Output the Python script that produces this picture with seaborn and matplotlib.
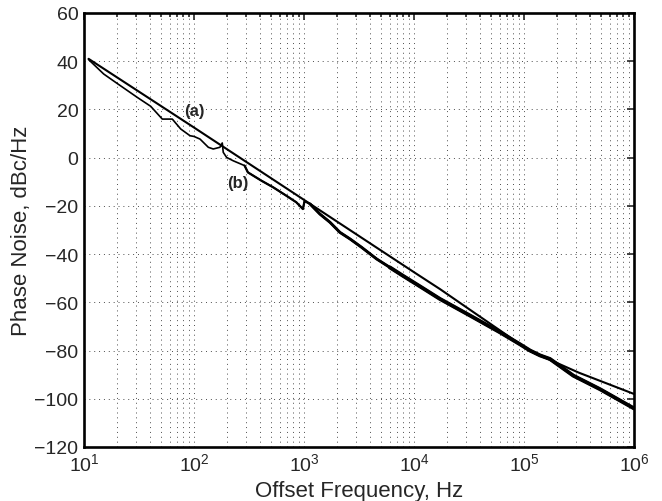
import matplotlib
matplotlib.use("Agg")
import matplotlib.pyplot as plt
import matplotlib.ticker as mticker
import numpy as np
import pandas as pd
import seaborn as sns

# ---- data ----
freq_a = [11, 100, 1000, 10000, 17220, 31620, 100000, 113500, 316200, 1000000]
pn_a = [41.0, 12.5, -17.5, -47.5, -54.5, -62.8, -78.5, -80.2, -89.2, -98.0]

freq_b = [11, 15.1, 20, 30.5, 40.4, 51.5, 63.5, 75.7, 92, 100, 113.5, 135, 149.6,
          172, 180.7, 184.5, 198, 227.5, 288.4, 309, 412, 525, 692, 851, 977,
          1012, 1135, 1396, 1722, 2123, 2618, 3342, 4571, 6026, 7943, 11350,
          17220, 32360, 60260, 91200, 113500, 139600, 172200, 280500, 489800,
          1000000]
pn_b = [40.7, 34.7, 30.8, 25.0, 21.3, 16.0, 16.0, 11.9, 9.1, 8.8, 7.7, 4.3, 3.6,
        4.3, 6.1, 2.2, 0.1, -1.3, -3.3, -6.1, -9.6, -12.3, -15.8, -18.5, -21.3,
        -18.0, -19.2, -23.4, -26.8, -31.0, -33.7, -37.2, -42.0, -45.5, -49.0,
        -53.4, -58.6, -65.5, -72.4, -77.3, -80.0, -82.0, -83.5, -90.4, -96.0,
        -104.0]

x_ticks = [10, 100, 1000, 10000, 100000, 1000000]
y_ticks = [-120, -100, -80, -60, -40, -20, 0, 20, 40, 60]

df_a = pd.DataFrame({"f": freq_a, "pn": pn_a})
df_b = pd.DataFrame({"f": freq_b, "pn": pn_b})

sns.set_style("white")
plt.rcParams["font.family"] = ["Liberation Sans", "DejaVu Sans"]
plt.rcParams["mathtext.fontset"] = "custom"
plt.rcParams["mathtext.rm"] = "Liberation Sans"
plt.rcParams["mathtext.it"] = "Liberation Sans:italic"

fig = plt.figure(figsize=(6.62, 5.02), dpi=100)
ax = fig.add_axes([84 / 662, 1 - 448 / 502, 550 / 662, 434 / 502])

sns.lineplot(data=df_a, x="f", y="pn", ax=ax, color="black", lw=1.5,
             estimator=None, zorder=3)
# measured curve (b): its trace gets visibly thicker (noisier) toward high offsets
for fmin, lw in [(0, 1.2), (250, 1.6), (1100, 2.1), (5000, 2.8)]:
    sns.lineplot(data=df_b[df_b["f"] >= fmin], x="f", y="pn", ax=ax,
                 color="black", lw=lw, estimator=None, zorder=3)

ax.set_xscale("log")
ax.set_xlim(10, 1e6)
ax.set_ylim(-120, 60)
ax.set_xticks(x_ticks)
ax.set_yticks(y_ticks)
ax.xaxis.set_minor_locator(mticker.LogLocator(base=10, subs=np.arange(2, 10), numticks=20))
ax.xaxis.set_minor_formatter(mticker.NullFormatter())
ax.set_yticklabels([str(v).replace("-", "\u2212") for v in y_ticks])

ax.grid(True, which="both", axis="x", color="0.3", lw=0.7, ls=(0, (1, 4)))
ax.grid(True, which="major", axis="y", color="0.3", lw=0.7, ls=(0, (1, 4)))

ax.tick_params(which="both", direction="in", top=True, right=True,
               labelsize=14, width=1.2, pad=4)
ax.tick_params(which="major", length=5)
ax.tick_params(which="minor", length=3)
for s in ax.spines.values():
    s.set_linewidth(1.9)
    s.set_color("black")

ax.set_xlabel("Offset Frequency, Hz", fontsize=16, labelpad=4)
ax.set_ylabel("Phase Noise, dBc/Hz", fontsize=16, labelpad=2)

ax.text(100, 19.5, "(a)", fontsize=12, fontweight="bold", ha="center", va="center")
ax.text(251, -10.2, "(b)", fontsize=12, fontweight="bold", ha="center", va="center")

fig.savefig("out.png", dpi=100)
